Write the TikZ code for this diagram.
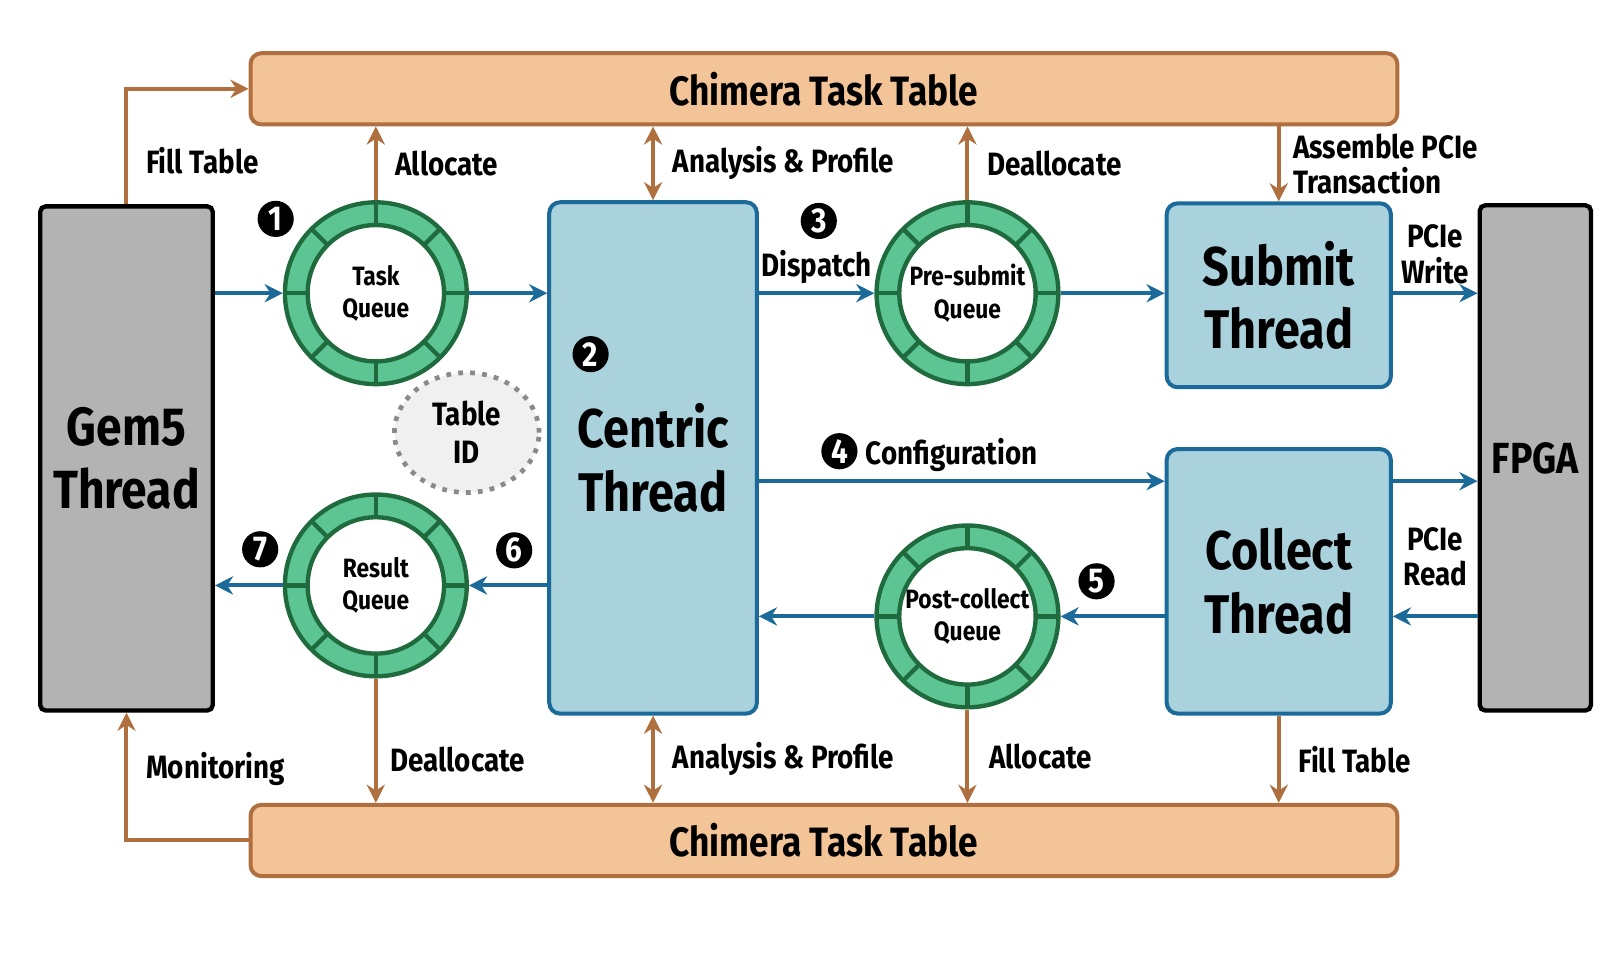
\documentclass[tikz,border=0pt]{standalone}
\usepackage{fontspec}
\setmainfont{Fira Sans}[FakeStretch=0.86]
\usetikzlibrary{arrows.meta, positioning, calc, shapes.geometric, backgrounds}

\definecolor{tablefill}{HTML}{F3C497}
\definecolor{tabledraw}{HTML}{B06F3F}
\definecolor{threadfill}{HTML}{A9D2DC}
\definecolor{threaddraw}{HTML}{1B6A9A}
\definecolor{boxgray}{HTML}{B3B3B3}
\definecolor{ringfill}{HTML}{5CC593}
\definecolor{ringdraw}{HTML}{1F6B3E}
\definecolor{idfill}{HTML}{F0F0F0}
\definecolor{iddraw}{HTML}{8A8A8A}

\begin{document}
\begin{tikzpicture}[
  x=0.01cm, y=-0.01cm,
  table/.style={rectangle, rounded corners=3pt, draw=tabledraw, line width=1.1pt, fill=tablefill, minimum width=11.1cm, minimum height=0.69cm, font=\bfseries\fontsize{11.3}{13}\selectfont},
  host/.style={rectangle, rounded corners=1.5pt, draw=black, line width=1.2pt, fill=boxgray, align=center, font=\bfseries\fontsize{14.8}{17.5}\selectfont},
  thread/.style={rectangle, rounded corners=3pt, draw=threaddraw, line width=1.1pt, fill=threadfill, align=center, font=\bfseries\fontsize{15}{17.5}\selectfont},
  queue/.style={circle, draw=ringdraw, line width=1.2pt, fill=ringfill, minimum size=1.76cm, inner sep=0pt, align=center, font=\bfseries\fontsize{7.3}{9}\selectfont,
    path picture={
      \fill[white, draw=ringdraw, line width=1.2pt] (path picture bounding box.center) circle (0.66cm);
      \foreach \a in {0,45,...,315}
        \draw[ringdraw, line width=1.2pt] (path picture bounding box.center) ++(\a:0.66cm) -- ++(\a:0.3cm);
    }},
  tableid/.style={ellipse, draw=iddraw, dotted, line width=1.3pt, fill=idfill, minimum width=1.4cm, minimum height=1.16cm, inner sep=0pt, align=center, font=\bfseries\fontsize{8.9}{10.5}\selectfont},
  num/.style={circle, fill=black, text=white, inner sep=0pt, minimum size=0.35cm, font=\bfseries\fontsize{9.5}{10}\selectfont},
  lbl/.style={font=\bfseries\fontsize{8.9}{9.8}\selectfont, align=left, inner sep=2pt},
  flow/.style={-{Stealth[length=5pt, width=5pt]}, draw=threaddraw, line width=1.1pt},
  link/.style={-{Stealth[length=5pt, width=5pt]}, draw=tabledraw, line width=1.1pt},
  both/.style={{Stealth[length=5pt, width=5pt]}-{Stealth[length=5pt, width=5pt]}, draw=tabledraw, line width=1.1pt}
]

\useasboundingbox (0,0) rectangle (1568,940);

% -------------------------
% TASK TABLES
% -------------------------
\node[table] (topT) at (798, 86) {Chimera Task Table};
\node[table] (botT) at (798, 814) {Chimera Task Table};

% -------------------------
% HOST AND DEVICE
% -------------------------
\node[host, minimum width=1.67cm, minimum height=4.88cm] (gem5) at (122.5, 444) {Gem5\\Thread};
\node[host, minimum width=1.0cm, minimum height=4.89cm, font=\bfseries\fontsize{12}{14}\selectfont] (fpga) at (1487, 443.5) {FPGA};

% -------------------------
% WORKER THREADS
% -------------------------
\node[thread, minimum width=2.01cm, minimum height=4.95cm] (centric) at (632.5, 443.5) {Centric\\Thread};
\node[thread, minimum width=2.17cm, minimum height=1.78cm] (submit) at (1238.5, 286) {Submit\\Thread};
\node[thread, minimum width=2.17cm, minimum height=2.56cm] (collect) at (1238.5, 563) {Collect\\Thread};

% -------------------------
% RING QUEUES
% -------------------------
\node[queue] (taskQ) at (364, 284) {Task\\Queue};
\node[queue] (presubQ) at (937, 284) {Pre-submit\\Queue};
\node[queue] (resQ) at (364, 567) {Result\\Queue};
\node[queue] (postQ) at (937, 597) {Post-collect\\Queue};

\node[tableid] (tid) at (452, 419) {Table\\ID};

% -------------------------
% DATA FLOW
% -------------------------
\coordinate (cfg) at ([yshift=-0.33cm]collect.north west);

\draw[flow] (gem5.east |- taskQ) -- (taskQ.west);
\draw[flow] (taskQ.east) -- (taskQ.east -| centric.west);
\draw[flow] (centric.east |- presubQ) -- node[lbl, above] {Dispatch} (presubQ.west);
\draw[flow] (presubQ.east) -- (presubQ.east -| submit.west);
\draw[flow] (submit.east |- presubQ) -- node[lbl, above, align=center] {PCIe\\Write} (presubQ -| fpga.west);

\draw[flow] (cfg -| centric.east) -- node[lbl, pos=0.475, above] {Configuration} (cfg);
\draw[flow] (collect.east |- cfg) -- (fpga.west |- cfg);

\draw[flow] (fpga.west |- postQ) -- node[lbl, above=0.2cm, align=center] {PCIe\\Read} (collect.east |- postQ);
\draw[flow] (collect.west |- postQ) -- (postQ.east);
\draw[flow] (postQ.west) -- (postQ.west -| centric.east);
\draw[flow] (centric.west |- resQ) -- (resQ.east);
\draw[flow] (resQ.west) -- (resQ.west -| gem5.east);

% -------------------------
% TABLE ACCESS
% -------------------------
\draw[link] (gem5.north) |- node[lbl, pos=0.19, right=1mm] {Fill Table} (topT.west);
\draw[link] (taskQ.north) -- node[lbl, right=1mm] {Allocate} (taskQ.north |- topT.south);
\draw[both] (centric.north) -- node[lbl, right=1mm] {Analysis \& Profile} (centric.north |- topT.south);
\draw[link] (presubQ.north) -- node[lbl, right=1mm] {Deallocate} (presubQ.north |- topT.south);
\draw[link] (submit.north |- topT.south) -- node[lbl, right=0.5mm] {Assemble PCIe\\Transaction} (submit.north);

\draw[link] (botT.west) -| node[lbl, pos=0.78, right=1mm] {Monitoring} (gem5.south);
\draw[link] (resQ.south) -- node[lbl, pos=0.65, right=0.5mm] {Deallocate} (resQ.south |- botT.north);
\draw[both] (centric.south) -- node[lbl, right=1mm] {Analysis \& Profile} (centric.south |- botT.north);
\draw[link] (postQ.south) -- node[lbl, right=1.2mm] {Allocate} (postQ.south |- botT.north);
\draw[link] (collect.south) -- node[lbl, right=1mm] {Fill Table} (collect.south |- botT.north);

% -------------------------
% STEP NUMBERS
% -------------------------
\node[num] (n1) at (267, 212) {1};
\node[num] (n2) at (572, 343) {2};
\node[num] (n3) at (793, 214) {3};
\node[num] (n4) at (813, 437) {4};
\node[num] (n5) at (1062, 563) {5};
\node[num] (n6) at (498, 533) {6};
\node[num] (n7) at (252, 532) {7};

\end{tikzpicture}
\end{document}
